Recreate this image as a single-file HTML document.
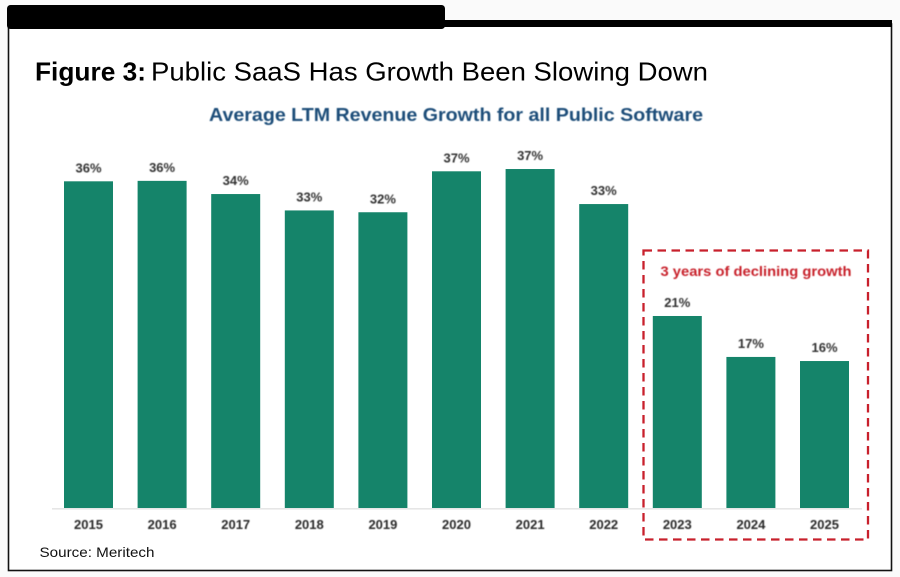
<!DOCTYPE html>
<html lang="en">
<head>
<meta charset="utf-8">
<title>Public SaaS Growth</title>
<style>
html,body{margin:0;padding:0;background:#fff;width:900px;height:577px;overflow:hidden}
svg{display:block}
text{font-family:"Liberation Sans",Arial,sans-serif}
</style>
</head>
<body>
<svg id="chart" width="900" height="577" viewBox="0 0 900 577" xmlns="http://www.w3.org/2000/svg">
  <defs>
    <filter id="soft" x="-5%" y="-5%" width="110%" height="110%"><feGaussianBlur stdDeviation="0.4"/></filter>
  </defs>
  <rect x="0" y="0" width="900" height="577" fill="#fafafa"/>
  <rect x="8.5" y="24" width="883" height="546.5" fill="#fff" stroke="#111" stroke-width="1.6"/>
  <rect x="440" y="20" width="452" height="7" fill="#000"/>
  <rect x="7" y="5" width="438" height="24" rx="3.5" fill="#000"/>
  <text x="35" y="80.5" font-size="26" font-weight="700" fill="#000" textLength="111" lengthAdjust="spacingAndGlyphs">Figure 3:</text>
  <text x="151" y="80.5" font-size="26" fill="#000" textLength="557" lengthAdjust="spacingAndGlyphs">Public SaaS Has Growth Been Slowing Down</text>
  <text x="456" y="121" font-size="18.5" font-weight="700" fill="#1f4e79" text-anchor="middle" textLength="494" lengthAdjust="spacingAndGlyphs" filter="url(#soft)">Average LTM Revenue Growth for all Public Software</text>
  <g id="bars"></g>
  <line x1="52" y1="508.8" x2="862" y2="508.8" stroke="#e2e2e2" stroke-width="1.4"/>
  <g id="labels" filter="url(#soft)"></g>
  <g id="ticks" filter="url(#soft)"></g>
  <rect x="643.5" y="250.5" width="224.5" height="289" fill="none" stroke="#c8202c" stroke-width="2.3" stroke-dasharray="8.5 5.5"/>
  <text x="756" y="276" font-size="13.6" font-weight="700" fill="#c8202c" text-anchor="middle" textLength="191" lengthAdjust="spacingAndGlyphs" filter="url(#soft)">3 years of declining  growth</text>
  <text x="39.5" y="557" font-size="14" fill="#111" textLength="115" lengthAdjust="spacingAndGlyphs">Source: Meritech</text>
</svg>
<script>
const categories = ['2015','2016','2017','2018','2019','2020','2021','2022','2023','2024','2025'];
const seriesValues = [35.9,35.95,34.5,32.7,32.5,37.0,37.25,33.4,21.1,16.6,16.15];
const valueLabels = ['36%','36%','34%','33%','32%','37%','37%','33%','21%','17%','16%'];

const NS = 'http://www.w3.org/2000/svg';
const baselineY = 508;
const pxPerPercent = 9.1;
const firstCenter = 88.5;
const step = 73.6;
const barWidth = 49;
function xScale(i){ return firstCenter + step * i; }
function yScale(v){ return baselineY - v * pxPerPercent; }

const barsG = document.getElementById('bars');
const labelsG = document.getElementById('labels');
const ticksG = document.getElementById('ticks');

categories.forEach(function(cat, i){
  const v = seriesValues[i];
  const cx = xScale(i);
  const top = yScale(v);

  const bar = document.createElementNS(NS, 'rect');
  
  
  bar.setAttribute('x', cx - barWidth / 2);
  bar.setAttribute('y', top);
  bar.setAttribute('width', barWidth);
  bar.setAttribute('height', baselineY - top);
  bar.setAttribute('fill', '#15846a');
  barsG.appendChild(bar);

  const label = document.createElementNS(NS, 'text');
  
  
  label.setAttribute('x', cx);
  label.setAttribute('y', top - 9);
  label.setAttribute('font-size', '13');
  label.setAttribute('font-weight', '700');
  label.setAttribute('fill', '#333');
  label.setAttribute('text-anchor', 'middle');
  label.textContent = valueLabels[i];
  labelsG.appendChild(label);

  const tick = document.createElementNS(NS, 'text');
  
  
  tick.setAttribute('x', cx);
  tick.setAttribute('y', 529);
  tick.setAttribute('font-size', '13');
  tick.setAttribute('font-weight', '700');
  tick.setAttribute('fill', '#2b2b2b');
  tick.setAttribute('text-anchor', 'middle');
  tick.textContent = cat;
  ticksG.appendChild(tick);
});
</script>
</body>
</html>
